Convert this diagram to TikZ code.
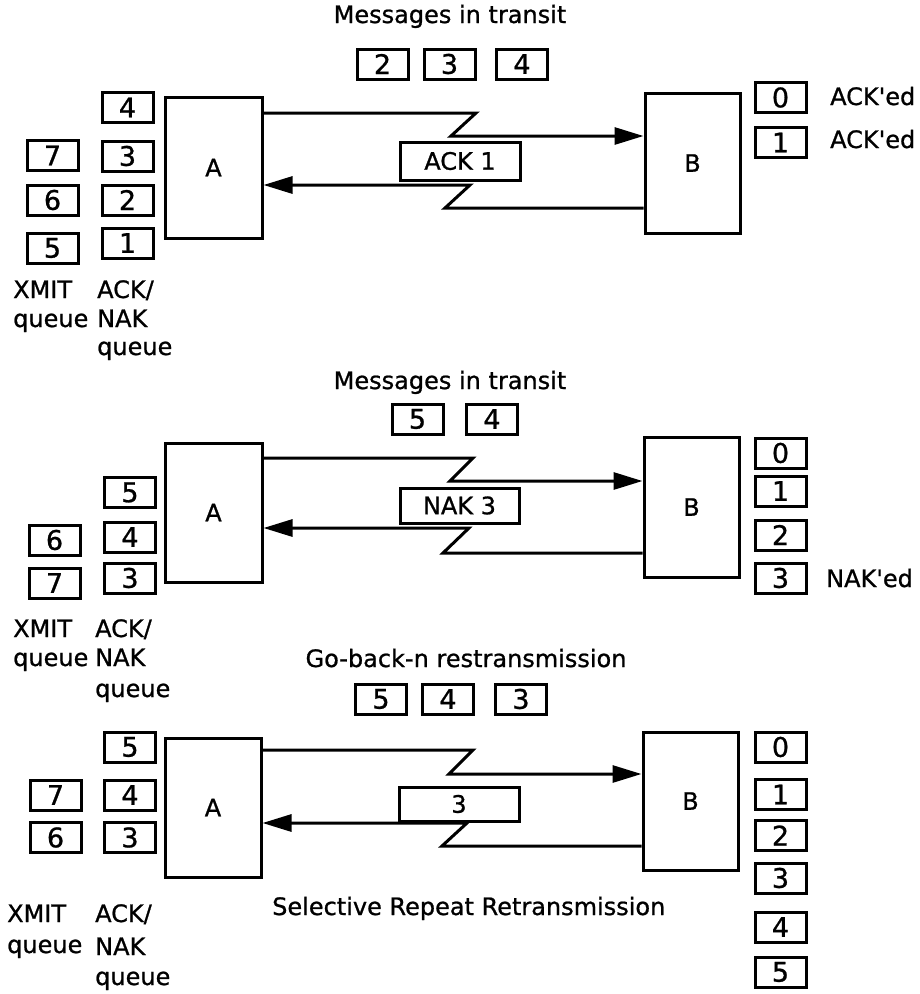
\documentclass[tikz,border=0pt]{standalone}
\usepackage{fontspec}
\setmainfont{DejaVu Sans}[UprightFeatures={FakeBold=0.9}]
\usetikzlibrary{arrows.meta}
\newcommand\fsz{\fontsize{24}{28}\selectfont}
\newcommand\dsz{\fontsize{27}{30}\selectfont}
\begin{document}
\begin{tikzpicture}[x=1pt,y=-1pt,
  qbox/.style={draw, line width=3pt, minimum width=51pt, minimum height=30pt, inner sep=0pt, font=\dsz},
  station/.style={draw, line width=3pt, inner sep=0pt, font=\fsz},
  msgbox/.style={draw, line width=3pt, inner sep=0pt, font=\fsz},
  lbl/.style={anchor=base west, inner sep=0pt, font=\fsz},
  ttl/.style={anchor=base, inner sep=0pt, font=\fsz},
  conn/.style={line width=3pt, line join=miter},
  arr/.style={conn, -{Triangle[length=29pt,width=17pt]}}
]
\useasboundingbox (0,0) rectangle (919,994);

% ---------------- Panel 1 ----------------
\node[ttl] (t1) at (450,23) {Messages in transit};
\node[qbox] (m12) at (382.5,64) {2};
\node[qbox] (m13) at (449.5,64) {3};
\node[qbox] (m14) at (522,64) {4};

\node[station, minimum width=97pt, minimum height=141pt] (A1) at (213.5,167.5) {\raisebox{-6pt}{A}};
\node[station, minimum width=95pt, minimum height=140pt] (B1) at (692.5,163) {\raisebox{-6pt}{B}};

\node[qbox] (a14) at (127.5,107.5) {4};
\node[qbox] (a13) at (127.5,156) {3};
\node[qbox] (a12) at (127.5,200) {2};
\node[qbox] (a11) at (127.5,243) {1};
\node[qbox] (x17) at (52.5,155.5) {7};
\node[qbox] (x16) at (52.5,200) {6};
\node[qbox] (x15) at (52.5,248) {5};

\node[qbox] (r10) at (780.5,97.5) {0};
\node[qbox] (r11) at (780.5,142.5) {1};
\node[lbl] (ack0) at (830,105) {ACK\textquotesingle ed};
\node[lbl] (ack1) at (830,148) {ACK\textquotesingle ed};

\node[msgbox, minimum width=120pt, minimum height=38pt] (k1) at (460,161) {ACK 1};

\node[lbl] (xm1) at (13,298) {XMIT};
\node[lbl] (xq1) at (13,327) {queue};
\node[lbl] (an1) at (97,298) {ACK/};
\node[lbl] (nk1) at (97,327) {NAK};
\node[lbl] (aq1) at (97,355) {queue};

\draw[arr] (A1.east |- 0,113) -- (476,113) -- (451,136) -- (B1.west |- 0,136);
\draw[arr] (B1.west |- 0,208) -- (445,208) -- (470,185) -- (A1.east |- 0,185);

% ---------------- Panel 2 ----------------
\node[ttl] (t2) at (450,389) {Messages in transit};
\node[qbox] (m25) at (417.5,419) {5};
\node[qbox] (m24) at (492,419) {4};

\node[station, minimum width=97pt, minimum height=139pt] (A2) at (213.5,512.5) {\raisebox{-6pt}{A}};
\node[station, minimum width=95pt, minimum height=140pt] (B2) at (691.5,507) {\raisebox{-6pt}{B}};

\node[qbox] (a25) at (130,492.5) {5};
\node[qbox] (a24) at (130,537) {4};
\node[qbox] (a23) at (130,578) {3};
\node[qbox] (x26) at (54.5,540) {6};
\node[qbox] (x27) at (54.5,583) {7};

\node[qbox] (r20) at (780.5,453) {0};
\node[qbox] (r21) at (780.5,491) {1};
\node[qbox] (r22) at (780.5,535) {2};
\node[qbox] (r23) at (780.5,578) {3};
\node[lbl] (nak3) at (826,587) {NAK\textquotesingle ed};

\node[msgbox, minimum width=119pt, minimum height=35pt] (k2) at (459.5,505.5) {NAK 3};

\node[lbl] (xm2) at (13,637) {XMIT};
\node[lbl] (xq2) at (13,666) {queue};
\node[lbl] (an2) at (95,637) {ACK/};
\node[lbl] (nk2) at (95,666) {NAK};
\node[lbl] (aq2) at (95,697) {queue};

\draw[arr] (A2.east |- 0,458) -- (473,458) -- (450,481) -- (B2.west |- 0,481);
\draw[arr] (B2.west |- 0,553) -- (443,553) -- (469,528) -- (A2.east |- 0,528);

\node[ttl] (gb) at (466,667) {Go-back-n restransmission};
\node[qbox] (g5) at (381,699) {5};
\node[qbox] (g4) at (448,699) {4};
\node[qbox] (g3) at (521,699) {3};

% ---------------- Panel 3 ----------------
\node[station, minimum width=96pt, minimum height=139pt] (A3) at (213,807.5) {\raisebox{-6pt}{A}};
\node[station, minimum width=95pt, minimum height=138pt] (B3) at (690.5,801) {\raisebox{-6pt}{B}};

\node[qbox] (a35) at (130,747) {5};
\node[qbox] (a34) at (130,795) {4};
\node[qbox] (a33) at (130,837.5) {3};
\node[qbox] (x37) at (55.5,795) {7};
\node[qbox] (x36) at (55.5,837.5) {6};

\node[qbox] (r30) at (780.5,747) {0};
\node[qbox] (r31) at (780.5,794.5) {1};
\node[qbox] (r32) at (780.5,835.5) {2};
\node[qbox] (r33) at (780.5,878) {3};
\node[qbox] (r34) at (780.5,927) {4};
\node[qbox] (r35) at (780.5,972) {5};

\node[msgbox, minimum width=120pt, minimum height=34pt] (k3) at (459,804) {3};

\node[lbl] (sr) at (272,915) {Selective Repeat Retransmission};

\node[lbl] (xm3) at (7,922) {XMIT};
\node[lbl] (xq3) at (7,953) {queue};
\node[lbl] (an3) at (95,922) {ACK/};
\node[lbl] (nk3) at (95,955) {NAK};
\node[lbl] (aq3) at (95,985) {queue};

\draw[arr] (A3.east |- 0,750) -- (473,750) -- (449,774) -- (B3.west |- 0,774);
\draw[arr] (B3.west |- 0,846) -- (442,846) -- (467,823) -- (A3.east |- 0,823);
\end{tikzpicture}
\end{document}
